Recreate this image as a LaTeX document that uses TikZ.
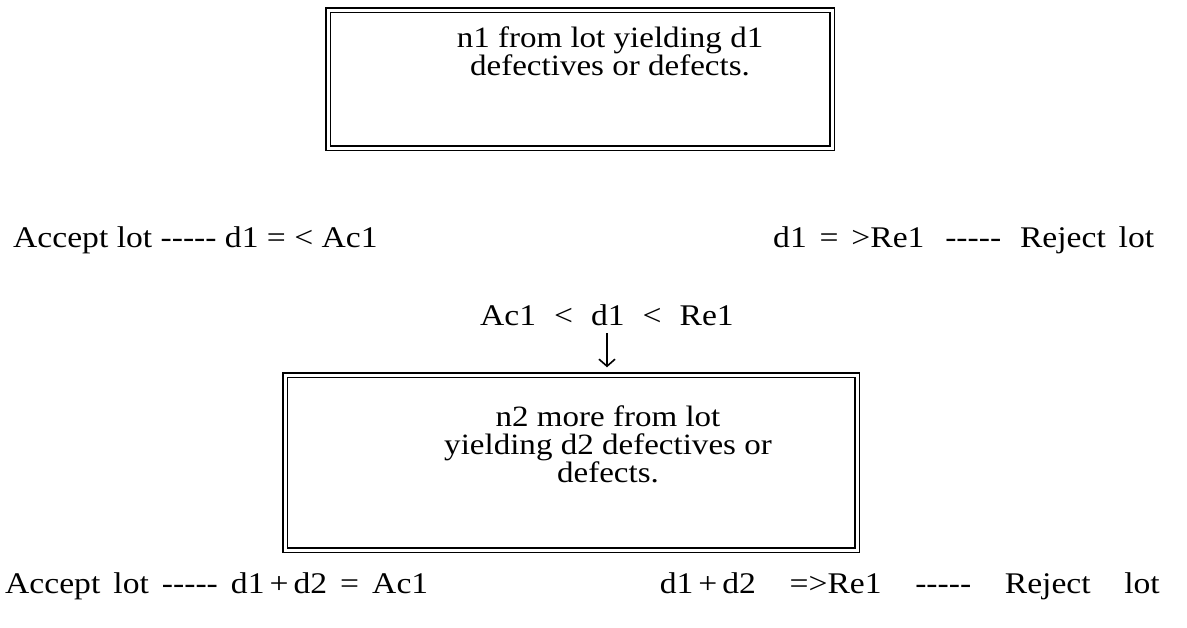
\documentclass[tikz,border=0pt]{standalone}
\usepackage{fontspec}
\setmainfont{Liberation Serif}[FakeStretch=1.12]
\usetikzlibrary{arrows.meta}
\newcommand\fivedash{\mbox{-}\mbox{-}\mbox{-}\mbox{-}\mbox{-}}
\begin{document}
\begin{tikzpicture}[x=1pt,y=-1pt]
\tikzset{
  dbox/.style={draw, double, double distance=3pt, line width=1.5pt, rectangle, inner sep=0pt},
  lbl/.style={font=\fontsize{30}{30}\selectfont, inner sep=0pt},
  btxt/.style={font=\fontsize{29.5}{28}\selectfont, align=center, inner sep=0pt},
  arr/.style={line width=1.6pt, -{Straight Barb[length=7pt,width=16pt,line width=1.6pt]}},
}
\useasboundingbox[fill=white] (0,0) rectangle (1187,627);
% boxes
\node[dbox, minimum width=504pt, minimum height=138pt] (box1) at (580,79) {};
\node[dbox, minimum width=572pt, minimum height=175pt] (box2) at (571,462.5) {};
% box texts
\node[btxt, anchor=north] (t1) at (610,27) {n1 from lot yielding d1\\defectives or defects.};
\node[btxt, anchor=north] (t2) at (608,406) {n2 more from lot\\yielding d2 defectives or\\defects.};
% first decision row
\node[lbl, anchor=base west] (acc1) at (13,247) {Accept lot \fivedash{} d1 = {<} Ac1};
\node[lbl, anchor=base west] (rej1) at (773,247) {\makebox[381pt][s]{d1 = {>}Re1 \hspace{8pt}\fivedash{} \hspace{6pt}Reject lot}};
% middle condition
\node[lbl, anchor=base] (mid) at (607,325) {Ac1\hspace{18pt}{<}\hspace{18pt}d1\hspace{18pt}{<}\hspace{18pt}Re1};
\draw[arr, shorten <=8pt, shorten >=7pt] (mid.south) -- (mid.south |- box2.north);
% second decision row
\node[lbl, anchor=base west] (acc2) at (5,593) {\makebox[423pt][s]{Accept lot \fivedash{} d1\,+\,d2 = Ac1}};
\node[lbl, anchor=base east] (rej2) at (1160,593) {\makebox[500pt][s]{d1\,+\,d2 ={>}Re1 \fivedash{} Reject lot}};
\end{tikzpicture}
\end{document}
